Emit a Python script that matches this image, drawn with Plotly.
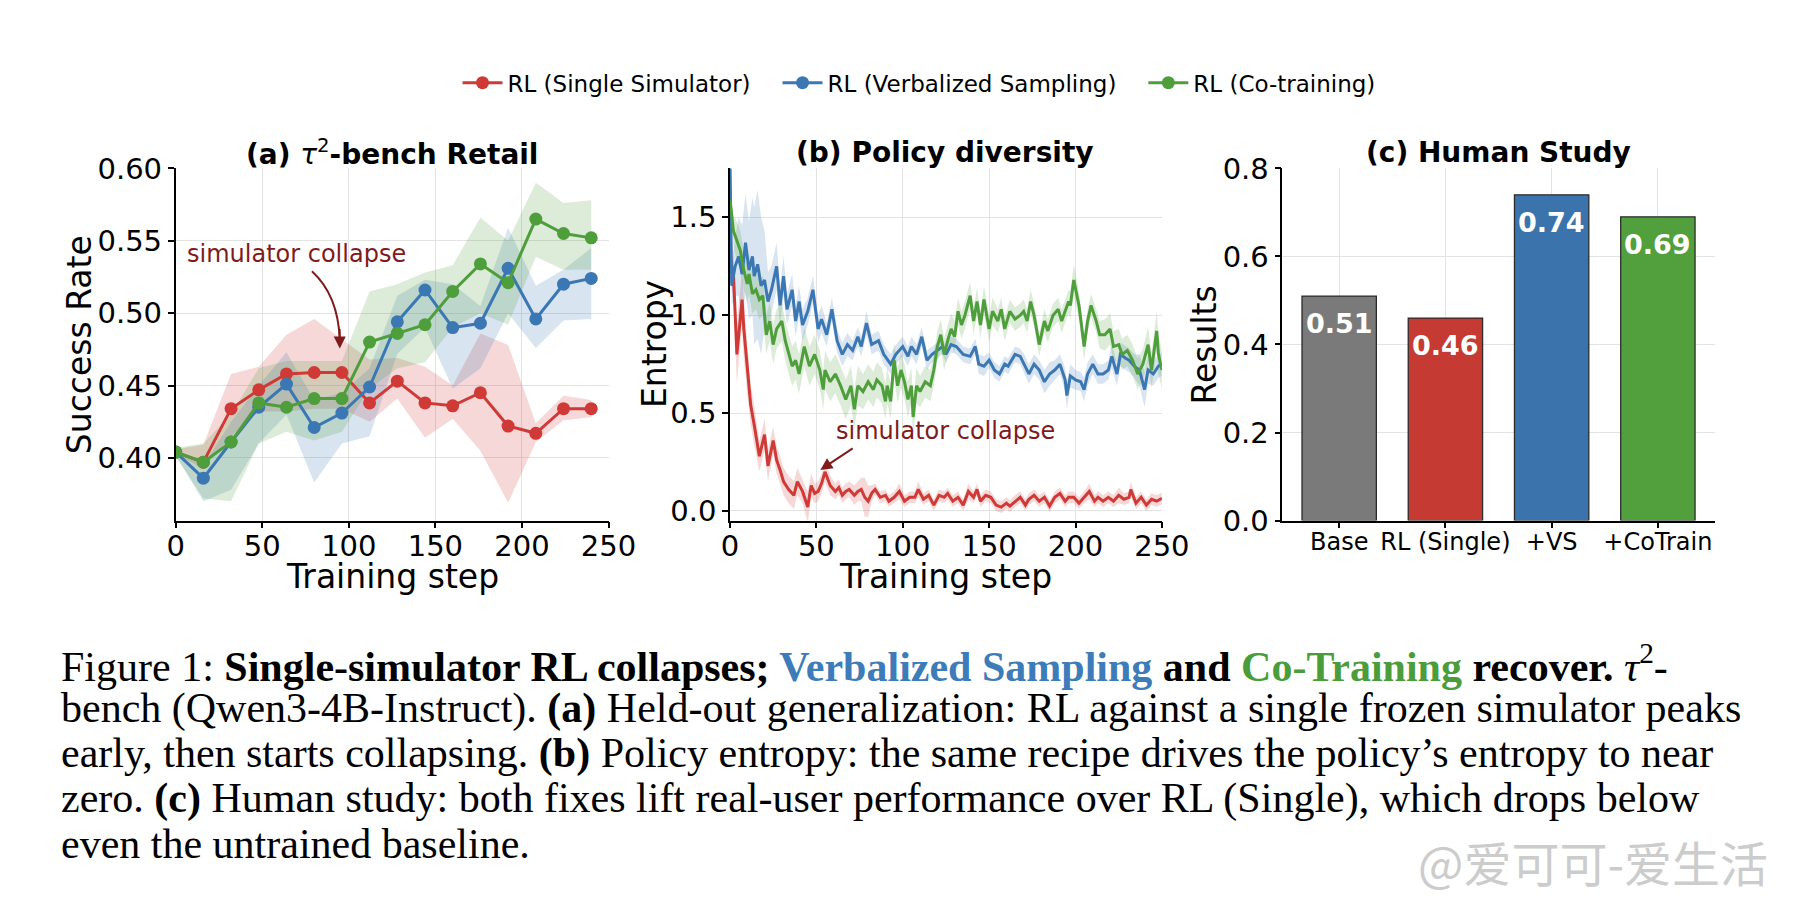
import plotly.graph_objects as go

# ---------- data ----------
# (a) tau2-bench Retail, success rate
steps_a = [0, 16, 32, 48, 64, 80, 96, 112, 128, 144, 160, 176, 192, 208, 224, 240]
red_a = [0.404, 0.397, 0.434, 0.447, 0.458, 0.459, 0.459, 0.438, 0.453, 0.438, 0.436, 0.445, 0.422, 0.417, 0.434, 0.434]
red_a_hi = [0.406, 0.409, 0.458, 0.463, 0.485, 0.496, 0.482, 0.468, 0.469, 0.463, 0.450, 0.486, 0.478, 0.424, 0.443, 0.440]
red_a_lo = [0.402, 0.393, 0.415, 0.432, 0.432, 0.434, 0.434, 0.425, 0.441, 0.414, 0.427, 0.405, 0.369, 0.411, 0.426, 0.428]
blue_a = [0.404, 0.386, 0.411, 0.435, 0.451, 0.421, 0.431, 0.449, 0.494, 0.516, 0.490, 0.493, 0.531, 0.496, 0.520, 0.524]
blue_a_hi = [0.406, 0.395, 0.425, 0.450, 0.473, 0.440, 0.445, 0.462, 0.512, 0.523, 0.520, 0.505, 0.559, 0.519, 0.530, 0.545]
blue_a_lo = [0.402, 0.370, 0.378, 0.410, 0.430, 0.383, 0.410, 0.415, 0.472, 0.490, 0.448, 0.462, 0.500, 0.476, 0.495, 0.496]
green_a = [0.404, 0.397, 0.411, 0.438, 0.435, 0.441, 0.441, 0.480, 0.486, 0.492, 0.515, 0.534, 0.521, 0.565, 0.555, 0.552]
green_a_hi = [0.407, 0.410, 0.430, 0.462, 0.467, 0.467, 0.467, 0.515, 0.520, 0.528, 0.533, 0.566, 0.550, 0.590, 0.576, 0.578]
green_a_lo = [0.401, 0.372, 0.370, 0.410, 0.418, 0.412, 0.418, 0.448, 0.462, 0.466, 0.490, 0.500, 0.492, 0.539, 0.530, 0.530]

# (b) policy entropy
steps_red_b = [0, 2, 4, 6, 7, 8, 10, 12, 14, 17, 20, 22, 25, 27, 29, 31, 34, 37, 39, 42,
               45, 47, 49, 51, 53, 55, 58, 61, 63, 65, 67, 69, 72, 74, 76, 78, 80, 82, 84, 87,
               90, 92, 95, 98, 101, 104, 107, 109, 112, 115, 118, 121, 124, 126, 129, 132, 135, 138, 141, 143,
               145, 148, 151, 154, 157, 160, 162, 165, 168, 171, 173, 176, 179, 182, 185, 188, 191, 194, 196, 199,
               202, 205, 208, 211, 213, 216, 219, 222, 225, 228, 231, 232, 235, 238, 241, 244, 247, 250]
red_b = [1.30, 1.21, 0.80, 1.00, 1.08, 0.93, 0.72, 0.54, 0.44, 0.28, 0.39, 0.23, 0.36, 0.26, 0.21, 0.15, 0.11, 0.08, 0.15, 0.10,
         0.02, 0.13, 0.09, 0.10, 0.14, 0.20, 0.13, 0.10, 0.12, 0.08, 0.10, 0.11, 0.08, 0.10, 0.11, 0.07, 0.05, 0.09, 0.11, 0.07,
         0.08, 0.05, 0.07, 0.10, 0.05, 0.07, 0.07, 0.11, 0.06, 0.08, 0.03, 0.08, 0.07, 0.09, 0.05, 0.07, 0.03, 0.10, 0.07, 0.11,
         0.05, 0.08, 0.07, 0.03, 0.02, 0.04, 0.025, 0.05, 0.07, 0.03, 0.06, 0.08, 0.05, 0.07, 0.025, 0.07, 0.09, 0.05, 0.07, 0.07,
         0.04, 0.07, 0.10, 0.05, 0.07, 0.05, 0.07, 0.05, 0.08, 0.06, 0.07, 0.11, 0.04, 0.07, 0.03, 0.06, 0.05, 0.065]
red_b_sd = [0.10, 0.12, 0.15, 0.15, 0.15, 0.15, 0.12, 0.10, 0.10, 0.08, 0.08, 0.08, 0.07, 0.07, 0.07, 0.07, 0.07, 0.07, 0.07, 0.06,
            0.08, 0.06, 0.05, 0.05, 0.05, 0.05, 0.05, 0.04, 0.04, 0.04, 0.04, 0.04, 0.05, 0.05, 0.06, 0.10, 0.08, 0.04, 0.03, 0.03,
            0.03, 0.03, 0.03, 0.04, 0.03, 0.03, 0.03, 0.04, 0.03, 0.03, 0.03, 0.03, 0.03, 0.03, 0.03, 0.03, 0.03, 0.04, 0.03, 0.03,
            0.03, 0.03, 0.03, 0.03, 0.03, 0.03, 0.03, 0.03, 0.03, 0.03, 0.03, 0.03, 0.03, 0.03, 0.03, 0.03, 0.03, 0.03, 0.03, 0.03,
            0.03, 0.03, 0.04, 0.03, 0.03, 0.03, 0.03, 0.03, 0.04, 0.03, 0.03, 0.04, 0.03, 0.03, 0.03, 0.03, 0.03, 0.03]

steps_blue_b = [0, 1, 3, 5, 7, 9, 11, 13, 14, 16, 18, 20, 22, 24, 27, 29, 31, 33, 36, 38,
                40, 42, 45, 48, 51, 53, 56, 59, 62, 65, 68, 71, 74, 76, 79, 82, 86, 89, 93, 96,
                100, 103, 105, 108, 111, 114, 117, 120, 123, 125, 128, 131, 135, 139, 142, 144, 147, 150, 153, 156,
                159, 161, 165, 168, 171, 173, 176, 179, 182, 185, 188, 191, 194, 195, 197, 200, 203, 205, 207, 210,
                213, 216, 219, 221, 224, 226, 229, 231, 234, 237, 240, 242, 245, 248, 250]
blue_b = [1.80, 1.15, 1.25, 1.30, 1.21, 1.37, 1.23, 1.30, 1.20, 1.26, 1.15, 1.18, 1.07, 1.13, 1.25, 1.05, 1.20, 1.03, 1.13, 0.97,
          1.07, 0.95, 1.02, 1.13, 0.93, 0.98, 0.90, 1.03, 0.87, 0.80, 0.85, 0.82, 0.89, 0.84, 0.96, 0.85, 0.87, 0.80, 0.75, 0.80,
          0.84, 0.79, 0.84, 0.80, 0.89, 0.77, 0.80, 0.82, 0.84, 0.80, 0.85, 0.84, 0.80, 0.79, 0.84, 0.75, 0.74, 0.77, 0.72, 0.70,
          0.75, 0.74, 0.80, 0.79, 0.74, 0.70, 0.75, 0.72, 0.66, 0.70, 0.72, 0.75, 0.67, 0.59, 0.69, 0.67, 0.66, 0.62, 0.70, 0.75,
          0.70, 0.70, 0.72, 0.79, 0.70, 0.80, 0.78, 0.77, 0.74, 0.72, 0.62, 0.72, 0.70, 0.74, 0.75]
blue_b_sd = [0.10, 0.10, 0.15, 0.20, 0.25, 0.25, 0.25, 0.30, 0.35, 0.38, 0.35, 0.25, 0.15, 0.12, 0.12, 0.10, 0.10, 0.08, 0.08, 0.08,
             0.08, 0.08, 0.07, 0.07, 0.07, 0.07, 0.06, 0.06, 0.06, 0.06, 0.06, 0.05, 0.05, 0.05, 0.06, 0.05, 0.05, 0.05, 0.05, 0.05,
             0.05, 0.05, 0.05, 0.05, 0.05, 0.05, 0.04, 0.04, 0.04, 0.04, 0.04, 0.04, 0.04, 0.04, 0.04, 0.05, 0.05, 0.04, 0.04, 0.04,
             0.04, 0.04, 0.04, 0.04, 0.05, 0.05, 0.05, 0.05, 0.06, 0.06, 0.05, 0.05, 0.06, 0.07, 0.06, 0.05, 0.05, 0.06, 0.06, 0.05,
             0.05, 0.05, 0.05, 0.06, 0.06, 0.06, 0.06, 0.06, 0.06, 0.08, 0.09, 0.07, 0.06, 0.06, 0.06]

steps_green_b = [0, 2, 4, 6, 8, 10, 11, 13, 15, 17, 19, 21, 23, 25, 27, 30, 32, 34, 36, 38,
                 40, 43, 46, 49, 52, 54, 55, 58, 61, 64, 67, 70, 72, 74, 77, 80, 83, 85, 88, 90,
                 91, 93, 95, 97, 99, 101, 103, 105, 106, 108, 110, 113, 116, 118, 120, 122, 124, 126, 128, 130,
                 132, 134, 136, 139, 141, 143, 145, 147, 150, 152, 155, 157, 159, 162, 165, 168, 170, 172, 174, 176,
                 179, 182, 184, 187, 190, 192, 194, 196, 197, 199, 202, 205, 207, 209, 212, 214, 217, 220, 222, 225,
                 227, 230, 233, 236, 239, 242, 244, 247, 248, 250]
green_b = [1.59, 1.43, 1.38, 1.33, 1.23, 1.16, 1.21, 1.11, 1.13, 1.08, 1.10, 0.90, 0.97, 0.85, 0.93, 0.97, 0.87, 0.80, 0.74, 0.77,
           0.70, 0.84, 0.74, 0.80, 0.72, 0.62, 0.72, 0.66, 0.70, 0.64, 0.57, 0.64, 0.52, 0.64, 0.61, 0.66, 0.62, 0.67, 0.64, 0.56,
           0.64, 0.56, 0.77, 0.64, 0.72, 0.66, 0.57, 0.64, 0.48, 0.64, 0.61, 0.66, 0.64, 0.72, 0.84, 0.90, 0.80, 0.87, 0.93, 0.89,
           1.02, 0.95, 1.00, 1.10, 0.97, 1.07, 0.95, 1.08, 0.93, 1.02, 0.97, 1.03, 0.93, 1.02, 0.98, 1.00, 1.02, 0.97, 1.07, 1.00,
           0.85, 0.97, 0.92, 1.00, 1.03, 0.97, 1.02, 1.07, 1.05, 1.18, 1.05, 0.84, 0.97, 1.05, 0.97, 0.90, 0.90, 0.93, 0.84, 0.85,
           0.80, 0.82, 0.77, 0.70, 0.75, 0.85, 0.72, 0.92, 0.80, 0.72]
green_b_sd = [0.05, 0.08, 0.10, 0.10, 0.10, 0.10, 0.10, 0.10, 0.10, 0.10, 0.10, 0.10, 0.10, 0.10, 0.10, 0.10, 0.10, 0.10, 0.10, 0.10,
              0.10, 0.10, 0.10, 0.10, 0.10, 0.10, 0.10, 0.10, 0.10, 0.10, 0.10, 0.10, 0.10, 0.10, 0.09, 0.09, 0.09, 0.09, 0.09, 0.09,
              0.09, 0.09, 0.09, 0.09, 0.09, 0.09, 0.09, 0.09, 0.09, 0.09, 0.08, 0.08, 0.08, 0.08, 0.08, 0.08, 0.08, 0.08, 0.08, 0.08,
              0.07, 0.07, 0.07, 0.07, 0.07, 0.07, 0.07, 0.07, 0.07, 0.07, 0.06, 0.06, 0.06, 0.06, 0.06, 0.06, 0.06, 0.06, 0.06, 0.06,
              0.06, 0.06, 0.06, 0.06, 0.06, 0.06, 0.06, 0.06, 0.07, 0.08, 0.07, 0.07, 0.06, 0.06, 0.06, 0.07, 0.08, 0.08, 0.08, 0.08,
              0.08, 0.08, 0.08, 0.08, 0.08, 0.09, 0.09, 0.10, 0.10, 0.10]

# (c) human study
bar_names = ["Base", "RL (Single)", "+VS", "+CoTrain"]
bar_values = [0.51, 0.46, 0.74, 0.69]

series_names = ["RL (Single Simulator)", "RL (Verbalized Sampling)", "RL (Co-training)"]

# ---------- style ----------
RED, BLUE, GREEN = "#cf3a36", "#3b77b3", "#4f9e3c"
RED_F, BLUE_F, GREEN_F = "rgba(207,58,54,0.20)", "rgba(59,119,179,0.20)", "rgba(79,158,60,0.20)"
BAR_COLORS = ["#7a7a7a", "#c53a33", "#3b74ad", "#52a03d"]
DARKRED = "#7f1b1b"
SANS = "DejaVu Sans"
# the page body keeps its default 8px margin, so the figure is 16px smaller than the window
PAD = 8
W, H = 1810 - 2 * PAD, 918 - 2 * PAD
NB = "\u00a0"


def px_x(p):
    # window pixel -> paper fraction
    return (p - PAD) / W


def px_y(p):
    return 1 - (p - PAD) / H


fig = go.Figure()


def band(x, lo, hi, fill, xa, ya):
    fig.add_trace(go.Scatter(x=list(x) + list(x)[::-1], y=list(hi) + list(lo)[::-1],
                             fill="toself", fillcolor=fill, line=dict(width=0),
                             mode="lines", hoverinfo="skip", showlegend=False,
                             xaxis=xa, yaxis=ya))


# panel (a)
for lo, hi, fc in [(red_a_lo, red_a_hi, RED_F), (blue_a_lo, blue_a_hi, BLUE_F), (green_a_lo, green_a_hi, GREEN_F)]:
    band(steps_a, lo, hi, fc, "x", "y")
legend_names = [series_names[0] + NB * 3, series_names[1] + NB * 3, series_names[2]]
for vals, col, nm in [(red_a, RED, legend_names[0]), (blue_a, BLUE, legend_names[1]), (green_a, GREEN, legend_names[2])]:
    fig.add_trace(go.Scatter(x=steps_a, y=vals, mode="lines+markers", name=nm,
                             line=dict(color=col, width=3), marker=dict(color=col, size=13),
                             xaxis="x", yaxis="y"))

# panel (b)
for st, v, sd, fc in [(steps_red_b, red_b, red_b_sd, RED_F), (steps_blue_b, blue_b, blue_b_sd, BLUE_F),
                      (steps_green_b, green_b, green_b_sd, GREEN_F)]:
    band(st, [a - b for a, b in zip(v, sd)], [a + b for a, b in zip(v, sd)], fc, "x2", "y2")
for st, v, col in [(steps_red_b, red_b, RED), (steps_blue_b, blue_b, BLUE), (steps_green_b, green_b, GREEN)]:
    fig.add_trace(go.Scatter(x=st, y=v, mode="lines", line=dict(color=col, width=3),
                             showlegend=False, xaxis="x2", yaxis="y2"))

# panel (c)
fig.add_trace(go.Bar(x=bar_names, y=bar_values, width=0.7, showlegend=False,
                     marker=dict(color=BAR_COLORS, line=dict(color="#2b2b2b", width=1.3)),
                     xaxis="x3", yaxis="y3"))

axis_common = dict(showline=True, linecolor="black", linewidth=1.6, ticks="outside",
                   ticklen=6, tickwidth=1.6, tickcolor="black", showgrid=True,
                   gridcolor="#e3e3e3", gridwidth=1.2, zeroline=False,
                   tickfont=dict(family=SANS, size=29, color="black"))
x_common = dict(axis_common, ticklabelstandoff=-7)

y_dom = [px_y(523), px_y(157)]
fig.update_layout(
    xaxis=dict(domain=[px_x(170), px_x(612)], range=[0, 250], tickvals=[0, 50, 100, 150, 200, 250],
               anchor="y", **x_common),
    yaxis=dict(domain=y_dom, range=[0.3567, 0.60], tickvals=[0.40, 0.45, 0.50, 0.55, 0.60],
               tickformat=".2f", anchor="x", **axis_common),
    xaxis2=dict(domain=[px_x(736), px_x(1177)], range=[0, 250], tickvals=[0, 50, 100, 150, 200, 250],
                anchor="y2", **x_common),
    yaxis2=dict(domain=y_dom, range=[-0.049, 1.75], tickvals=[0.0, 0.5, 1.0, 1.5],
                tickformat=".1f", anchor="x2", **axis_common),
    xaxis3=dict(domain=[px_x(1300), px_x(1742)], range=[-0.535, 3.54], anchor="y3",
                **{**x_common, "tickfont": dict(family=SANS, size=24, color="black")}),
    yaxis3=dict(domain=y_dom, range=[0, 0.8], tickvals=[0.0, 0.2, 0.4, 0.6, 0.8],
                tickformat=".1f", anchor="x3", **axis_common),
)

ann = []
# panel titles
for cx, txt in [(391, "<b>(a) </b><i>τ</i><sup>2</sup><b>-bench Retail</b>"),
                (956, "<b>(b) Policy diversity</b>"),
                (1521, "<b>(c) Human Study</b>")]:
    ann.append(dict(x=px_x(cx), y=px_y(140), xref="paper", yref="paper", text=txt, showarrow=False,
                    xanchor="center", yanchor="middle", font=dict(family=SANS, size=28, color="black")))
# axis titles
for cx, txt in [(391, "Training step"), (956, "Training step")]:
    ann.append(dict(x=px_x(cx), y=px_y(581), xref="paper", yref="paper", text=txt, showarrow=False,
                    xanchor="center", yanchor="middle", font=dict(family=SANS, size=33, color="black")))
for cx, txt in [(72, "Success Rate"), (659, "Entropy"), (1221, "Results")]:
    ann.append(dict(x=px_x(cx), y=px_y(340), xref="paper", yref="paper", text=txt, showarrow=False,
                    textangle=-90, xanchor="center", yanchor="middle",
                    font=dict(family=SANS, size=33, color="black")))
# bar value labels
for name, v in zip(bar_names, bar_values):
    ann.append(dict(x=name, y=v - 0.062, xref="x3", yref="y3", text=f"<b>{v:.2f}</b>", showarrow=False,
                    font=dict(family=SANS, size=27, color="white")))
# simulator collapse notes
ann.append(dict(x=70, y=0.5406, xref="x", yref="y", text="simulator collapse", showarrow=False,
                font=dict(family=SANS, size=24, color=DARKRED)))
ann.append(dict(x=94.8, y=0.4756, xref="x", yref="y", ax=94.7, ay=0.49, axref="x", ayref="y",
                text="", showarrow=True, arrowhead=2, arrowsize=1.2, arrowwidth=2, arrowcolor=DARKRED))
ann.append(dict(x=124.8, y=0.408, xref="x2", yref="y2", text="simulator collapse", showarrow=False,
                font=dict(family=SANS, size=24, color=DARKRED)))
ann.append(dict(x=52.3, y=0.21, xref="x2", yref="y2", ax=71.9, ay=0.325, axref="x2", ayref="y2",
                text="", showarrow=True, arrowhead=2, arrowsize=1.2, arrowwidth=2, arrowcolor=DARKRED))

# caption
SERIF = "Liberation Serif"
caption = [
    "Figure 1: <b>Single-simulator RL collapses; </b><span style='color:#3d7cb8'><b>Verbalized Sampling</b></span>"
    "<b> and </b><span style='color:#4a9d3a'><b>Co-Training</b></span><b> recover.</b> <i>τ</i><sup>2</sup>-",
    "bench (Qwen3-4B-Instruct). <b>(a)</b> Held-out generalization: RL against a single frozen simulator peaks",
    "early, then starts collapsing. <b>(b)</b> Policy entropy: the same recipe drives the policy’s entropy to near",
    "zero. <b>(c)</b> Human study: both fixes lift real-user performance over RL (Single), which drops below",
    "even the untrained baseline.",
]
for i, line in enumerate(caption):
    ann.append(dict(x=px_x(51), y=px_y(671 + 47 * i), xref="paper", yref="paper", text=line,
                    showarrow=False, xanchor="left", yanchor="middle",
                    font=dict(family=SERIF, size=42, color="black")))
# watermark
ann.append(dict(x=px_x(1798), y=px_y(877), xref="paper", yref="paper", text="@爱可可-爱生活",
                showarrow=False, xanchor="right", yanchor="middle",
                font=dict(family="Noto Sans CJK SC", size=48, color="#cccccc")))

fig.update_layout(
    annotations=ann,
    shapes=[dict(type="path", xref="x", yref="y", path="M 78.7,0.529 Q 93.8,0.5125 94.75,0.482",
                 line=dict(color=DARKRED, width=2))],
    width=W, height=H, margin=dict(l=0, r=0, t=0, b=0),
    plot_bgcolor="white", paper_bgcolor="white",
    font=dict(family=SANS, color="black"),
    legend=dict(orientation="h", x=px_x(929), xanchor="center", y=px_y(68), yanchor="middle",
                font=dict(family=SANS, size=23, color="black"), itemwidth=40,
                bgcolor="rgba(0,0,0,0)"),
    bargap=0.3,
)

fig.write_html("out.html", config={"displayModeBar": False})
